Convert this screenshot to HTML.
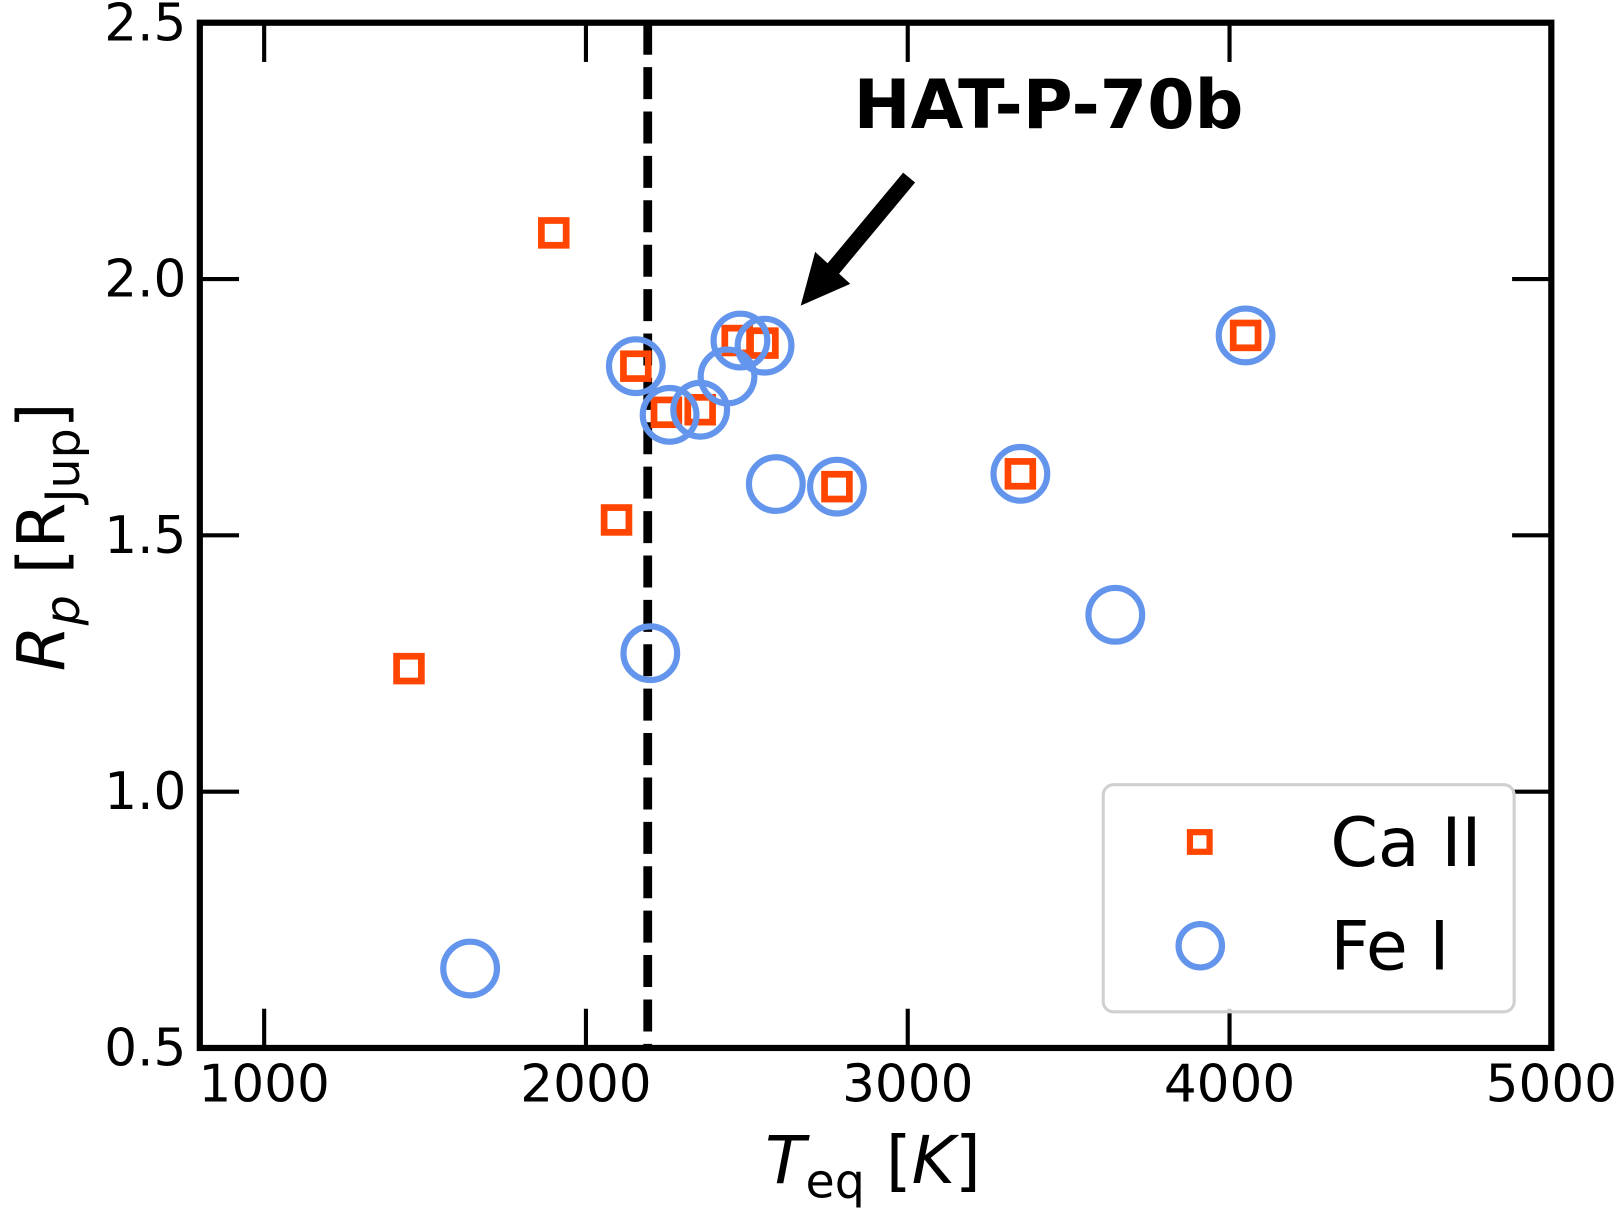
<!DOCTYPE html>
<html><head><meta charset="utf-8"><style>html,body{margin:0;padding:0;background:#fff}svg{display:block}text{font-family:"DejaVu Sans","Liberation Sans",sans-serif}</style></head>
<body>
<svg id="chart" width="1620" height="1208" viewBox="0 0 1568 1170" xmlns="http://www.w3.org/2000/svg">
<g id="marks"></g>
<g id="axes"></g>
</svg>
<script>
const caT = [1450, 1900, 2095, 2155, 2250, 2355, 2470, 2550, 2780, 3350, 4050];
const caR = [1.24, 2.09, 1.53, 1.83, 1.74, 1.745, 1.88, 1.875, 1.595, 1.62, 1.89];
const feT = [1640, 2155, 2200, 2260, 2355, 2440, 2480, 2555, 2590, 2780, 3350, 3645, 4050];
const feR = [0.655, 1.83, 1.27, 1.735, 1.745, 1.81, 1.88, 1.87, 1.6, 1.595, 1.62, 1.345, 1.89];
const xTicks = [1000, 2000, 3000, 4000, 5000];
const yTicks = [0.5, 1.0, 1.5, 2.0, 2.5];
const yTickLabels = ["0.5", "1.0", "1.5", "2.0", "2.5"];
const cutoffT = 2192;

const NS = "http://www.w3.org/2000/svg";
const L = 193, R = 1502, T = 22, B = 1015;
const X = v => L + (v - 800) / 4200 * (R - L);
const Y = v => B - (v - 0.5) / 2.0 * (B - T);
function mk(tag, attrs, parent) {
  const e = document.createElementNS(NS, tag);
  for (const k in attrs) e.setAttribute(k, attrs[k]);
  parent.appendChild(e);
  return e;
}
const marks = document.getElementById('marks');
const axes = document.getElementById('axes');

const dl = mk('line', {x1: X(cutoffT), x2: X(cutoffT), y1: T, y2: B, stroke: '#000', 'stroke-width': 8.5, 'stroke-dasharray': '31 12'}, marks);



caT.forEach((t, i) => {
  const s = mk('rect', {x: X(t) - 12, y: Y(caR[i]) - 12, width: 24, height: 24, fill: 'none', stroke: '#FF4500', 'stroke-width': 6.5}, marks);
  
  
});
feT.forEach((t, i) => {
  const c = mk('circle', {cx: X(t), cy: Y(feR[i]), r: 26, fill: 'none', stroke: '#6495ED', 'stroke-width': 6}, marks);
  
  
});

const ar = mk('line', {x1: 880, y1: 172, x2: 805, y2: 262, stroke: '#000', 'stroke-width': 15}, marks);


const ah = mk('polygon', {points: '775,296 789,244 823,275', fill: '#000'}, marks);


const at = mk('text', {x: 1015, y: 124, 'font-size': 66, 'font-weight': 'bold', 'text-anchor': 'middle'}, marks);
at.textContent = 'HAT-P-70b';



const fr = mk('rect', {x: L, y: T, width: R - L, height: B - T, fill: 'none', stroke: '#000', 'stroke-width': 6}, axes);



xTicks.forEach(v => {
  const x = X(v);
  const t1 = mk('line', {x1: x, x2: x, y1: B, y2: B - 38, stroke: '#000', 'stroke-width': 4}, axes);
  
  
  const t2 = mk('line', {x1: x, x2: x, y1: T, y2: T + 38, stroke: '#000', 'stroke-width': 4}, axes);
  
  
  const lb = mk('text', {x: x, y: 1067, 'font-size': 50, 'text-anchor': 'middle'}, axes);
  lb.textContent = String(v);
  
  
});
yTicks.forEach((v, i) => {
  const y = Y(v);
  const t1 = mk('line', {x1: L, x2: L + 38, y1: y, y2: y, stroke: '#000', 'stroke-width': 4}, axes);
  
  
  const t2 = mk('line', {x1: R, x2: R - 38, y1: y, y2: y, stroke: '#000', 'stroke-width': 4}, axes);
  
  
  const lb = mk('text', {x: 180, y: y + 17, 'font-size': 50, 'text-anchor': 'end'}, axes);
  lb.textContent = yTickLabels[i];
  
  
});

const xt = mk('text', {x: 845, y: 1146, 'font-size': 64, 'text-anchor': 'middle'}, axes);
xt.innerHTML = '<tspan font-style="italic">T</tspan><tspan font-size="46" dy="14">eq</tspan><tspan dy="-14"> [</tspan><tspan font-style="italic">K</tspan><tspan>]</tspan>';


const yt = mk('text', {x: 0, y: 0, 'font-size': 64, 'text-anchor': 'middle', transform: 'translate(62,520) rotate(-90)'}, axes);
yt.innerHTML = '<tspan font-style="italic">R</tspan><tspan font-style="italic" font-size="46" dy="14">p</tspan><tspan dy="-14"> [R</tspan><tspan font-size="46" dy="14">Jup</tspan><tspan dy="-14">]</tspan>';



const lg = mk('g', {}, axes);


const lbx = mk('rect', {x: 1068, y: 760, width: 398, height: 220, rx: 10, fill: '#fff', 'fill-opacity': 0.8, stroke: '#d0d0d0', 'stroke-width': 3}, lg);


const ls = mk('rect', {x: 1152, y: 806, width: 19, height: 19, fill: 'none', stroke: '#FF4500', 'stroke-width': 6}, lg);


const lt1 = mk('text', {x: 1288, y: 839, 'font-size': 66}, lg);
lt1.textContent = 'Ca II';


const lc = mk('circle', {cx: 1162, cy: 916, r: 21, fill: 'none', stroke: '#6495ED', 'stroke-width': 6}, lg);


const lt2 = mk('text', {x: 1288, y: 939, 'font-size': 66}, lg);
lt2.textContent = 'Fe I';


</script>
</body></html>
